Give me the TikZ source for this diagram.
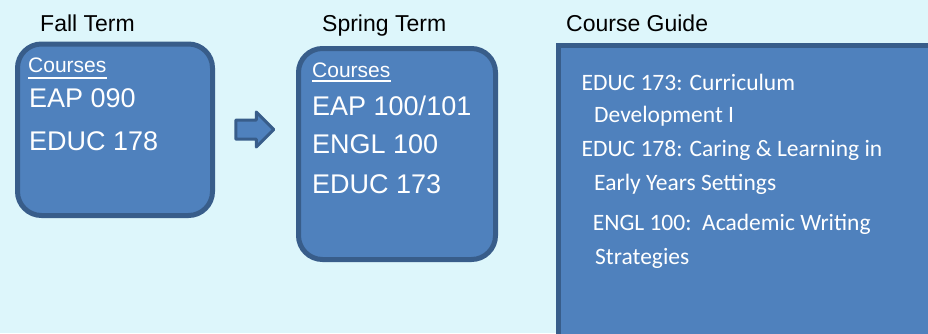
\documentclass[tikz,border=0pt]{standalone}
\usepackage{tikz}
\usetikzlibrary{shapes.arrows}
\usepackage{fontspec}
\setmainfont{Liberation Sans}
\newfontfamily\guidefont{Carlito}
\definecolor{bgcyan}{RGB}{221,246,251}
\definecolor{boxfill}{RGB}{79,129,189}
\definecolor{boxline}{RGB}{56,93,138}
\tikzset{
        termbox/.style={draw=boxline, fill=boxfill, line width=5pt, rounded corners=24pt},
        heading/.style={anchor=base west, inner sep=0pt, font=\fontsize{23}{27}\selectfont},
        coursehead/.style={anchor=base west, inner sep=0pt, text=white, font=\fontsize{21}{25}\selectfont},
        course/.style={anchor=base west, inner sep=0pt, text=white, font=\fontsize{27}{31}\selectfont},
        guide/.style={anchor=base west, inner sep=0pt, text=white, font=\guidefont\fontsize{23.5}{27}\selectfont}
    }

\begin{document}
\begin{tikzpicture}[x=1pt,y=-1pt]

\useasboundingbox (0,0) rectangle (928,333);
\clip (0,0) rectangle (928,333);
\fill[bgcyan] (0,0) rectangle (928,333);

\draw (115,129.75) node(FALL)[termbox, minimum width=195pt, minimum height=171.5pt]{};
\draw (397,154) node(SPRING)[termbox, minimum width=197pt, minimum height=211pt]{};
\draw (749.25,195.4) node(GUIDE)[draw=boxline, fill=boxfill, line width=5pt, minimum width=381.5pt, minimum height=299.2pt]{};

\draw (250,129.5) node(ARR)[single arrow, draw=boxline, fill=boxfill, line width=3pt,
      line join=round, inner xsep=0pt, inner ysep=8pt, minimum height=38pt,
      single arrow head extend=8pt]{};

\draw (40,31) node(FT)[heading]{Fall Term};
\draw (322,31) node(ST)[heading]{Spring Term};
\draw (566,31) node(CG)[heading]{Course Guide};

\draw (28,72) node(FC)[coursehead]{Courses};
\draw (29,107) node(F1)[course]{EAP 090};
\draw (29,150) node(F2)[course]{EDUC 178};

\draw (312,77) node(SC)[coursehead]{Courses};
\draw (312,115) node(S1)[course]{EAP 100/101};
\draw (312,153) node(S2)[course]{ENGL 100};
\draw (312,193) node(S3)[course]{EDUC 173};

\draw[white, line width=1.5pt] ([yshift=-6pt]FC.base west) -- ([yshift=-6pt]FC.base east);
\draw[white, line width=1.5pt] ([yshift=-4pt]SC.base west) -- ([yshift=-4pt]SC.base east);

\draw (581.5,90) node(G1)[guide]{EDUC 173: Curriculum};
\draw (594,122.7) node(G2)[guide]{Development I};
\draw (581.5,156.7) node(G3)[guide]{EDUC 178: Caring \& Learning in};
\draw (594,190) node(G4)[guide]{Early Years Settings};
\draw (592.7,230) node(G5)[guide]{ENGL 100:\ \ Academic Writing};
\draw (595,264.3) node(G6)[guide]{Strategies};

\end{tikzpicture}
\end{document}
